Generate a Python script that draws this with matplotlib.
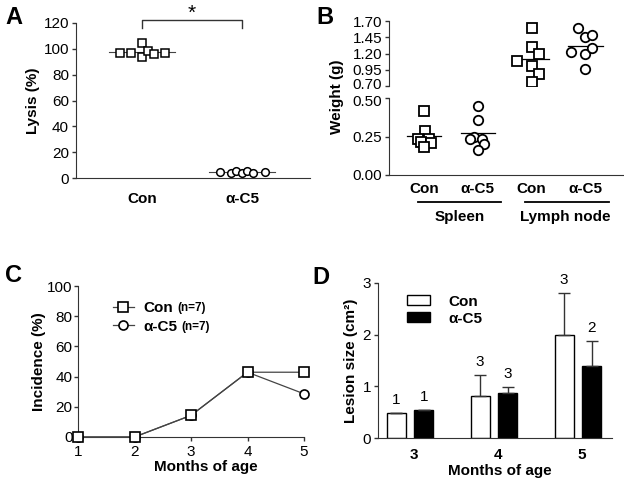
import numpy as np
import matplotlib
matplotlib.use('Agg')
import matplotlib.pyplot as plt
import matplotlib.transforms as mtransforms
from matplotlib.lines import Line2D
from matplotlib.patches import Patch

plt.rcParams['font.family'] = ['Liberation Sans', 'DejaVu Sans']
FS = 11
plt.rcParams['font.size'] = FS

# ---------------- data ----------------
# Panel A: lysis (%)
a_groups = ['Con', 'α-C5']
a_con = [97.0, 96.5, 104.2, 93.4, 98.5, 95.9, 97.0]
a_c5 = [4.7, 4.1, 5.4, 3.9, 5.2, 4.1, 4.4]

# Panel B: weight (g)
b_groups = ['Con', 'α-C5', 'Con', 'α-C5']
b_tissues = ['Spleen', 'Lymph node']
b_spleen_con = [0.416, 0.288, 0.236, 0.233, 0.216, 0.206, 0.184]
b_spleen_c5 = [0.45, 0.357, 0.249, 0.234, 0.237, 0.200, 0.164]
b_ln_con = [1.597, 1.305, 1.19, 1.085, 1.01, 0.88, 0.757]
b_ln_c5 = [1.587, 1.45, 1.485, 1.218, 1.19, 1.28, 0.957]

# Panel C: incidence (%)
c_months = [1, 2, 3, 4, 5]
c_con = [0, 0, 14.3, 42.9, 42.9]
c_c5 = [0, 0, 14.3, 42.9, 28.6]

# Panel D: lesion size (cm2)
d_months = [3, 4, 5]
d_con = [0.48, 0.81, 1.99]
d_con_err = [0.0, 0.40, 0.82]
d_c5 = [0.54, 0.87, 1.39]
d_c5_err = [0.0, 0.12, 0.48]
d_con_n = ['1', '3', '3']
d_c5_n = ['1', '3', '2']

# ---------------- layout helpers ----------------
W, H = 624, 482
fig = plt.figure(figsize=(W / 100, H / 100), dpi=100)
SP = '#333333'


def px_axes(x0, x1, ytop, ybot):
    return fig.add_axes([x0 / W, (H - ybot) / H, (x1 - x0) / W, (ybot - ytop) / H])


def style(ax, bottom=True):
    for s in ['top', 'right']:
        ax.spines[s].set_visible(False)
    ax.spines['left'].set_color(SP)
    ax.spines['bottom'].set_color(SP)
    if not bottom:
        ax.spines['bottom'].set_visible(False)
    ax.tick_params(colors=SP, labelcolor='black', labelsize=FS, length=3, width=1)
    ax.set_facecolor('none')


# ---------------- Panel A ----------------
axA = px_axes(76, 310, 23, 178)
style(axA)
jitA_con = [-0.22, -0.11, 0.0, 0.0, 0.057, 0.117, 0.23]
jitA_c5 = [-0.22, -0.11, -0.06, 0.0, 0.05, 0.11, 0.23]
for i, (vals, jit, mk) in enumerate([(a_con, jitA_con, 's'), (a_c5, jitA_c5, 'o')]):
    axA.plot([i - 0.33, i + 0.33], [np.mean(vals)] * 2, color='#444444', lw=0.8, zorder=1)
    axA.plot(np.array(jit) + i, vals, mk, ms=5.5, mfc='white', mec='black', mew=1.1,
             linestyle='none', zorder=3, clip_on=False)
axA.set_xlim(-0.66, 1.68)
axA.set_ylim(0, 120)
axA.set_yticks(np.arange(0, 121, 20))
axA.tick_params(axis='y', pad=2)
axA.set_xticks([0, 1])
axA.set_xticklabels(a_groups, fontweight='bold')
axA.tick_params(axis='x', length=0, pad=10)
axA.set_ylabel('Lysis (%)', fontweight='bold', fontsize=FS)
axA.yaxis.set_label_coords(-0.155, 0.5)
# significance bracket
axA.plot([0, 0, 1, 1], [116, 122.5, 122.5, 116], color=SP, lw=1, clip_on=False)
axA.text(0.5, 127.5, '*', ha='center', va='center', fontsize=15)

# ---------------- Panel B ----------------
axBu = px_axes(389, 623, 21, 86)
axBl = px_axes(389, 623, 98, 175)
style(axBu, bottom=False)
style(axBl)
jit_sc = [0, 0.02, -0.11, 0.09, -0.05, 0.135, 0]
jit_s5 = [0, 0, -0.07, -0.15, 0.07, 0.12, 0]
jit_lc = [0, 0, 0.135, -0.265, 0, 0.135, 0]
jit_l5 = [-0.135, 0, 0.125, -0.265, 0, 0.125, 0]
sets = [(b_spleen_con, jit_sc, 's', 0), (b_spleen_c5, jit_s5, 'o', 1),
        (b_ln_con, jit_lc, 's', 2), (b_ln_c5, jit_l5, 'o', 3)]
for vals, jit, mk, pos in sets:
    ax = axBl if max(vals) < 0.6 else axBu
    ax.plot([pos - 0.32, pos + 0.32], [np.mean(vals)] * 2, color='black', lw=0.9, zorder=1)
    ax.plot(np.array(jit) + pos, vals, mk, ms=7 if mk == 's' else 6.8, mfc='white',
            mec='black', mew=1.3, linestyle='none', zorder=3)
for ax in (axBu, axBl):
    ax.set_xlim(-0.65, 3.70)
    ax.tick_params(axis='y', pad=2)
axBu.set_ylim(0.70, 1.70)
axBu.set_yticks([0.70, 0.95, 1.20, 1.45, 1.70])
axBu.set_yticklabels(['0.70', '0.95', '1.20', '1.45', '1.70'])
axBu.set_xticks([])
axBl.set_ylim(0, 0.5)
axBl.set_yticks([0, 0.25, 0.50])
axBl.set_yticklabels(['0.00', '0.25', '0.50'])
axBl.set_xticks(range(4))
axBl.set_xticklabels(b_groups, fontweight='bold')
axBl.tick_params(axis='x', length=0, pad=5)
# nudge the two labels at the axis break apart so they do not collide
up = mtransforms.ScaledTranslation(0, 2 / 72, fig.dpi_scale_trans)
down = mtransforms.ScaledTranslation(0, -2 / 72, fig.dpi_scale_trans)
lab_u = axBu.get_yticklabels()[0]
lab_u.set_transform(lab_u.get_transform() + up)
lab_l = axBl.get_yticklabels()[-1]
lab_l.set_transform(lab_l.get_transform() + down)
fig.text(337 / W, 1 - 97 / H, 'Weight (g)', rotation=90, ha='center', va='center',
         fontweight='bold', fontsize=FS)
tr = axBl.get_xaxis_transform()
for (x0, x1, xc), name in zip([(-0.11, 1.43, 0.67), (1.87, 3.44, 2.62)], b_tissues):
    axBl.add_line(Line2D([x0, x1], [-0.35, -0.35], transform=tr, color='black', lw=1.3,
                         clip_on=False))
    axBl.text(xc, -0.55, name, transform=tr, ha='center', va='center', fontweight='bold',
              fontsize=FS)

# ---------------- Panel C ----------------
axC = px_axes(78, 304, 286, 437)
style(axC)
lc5, = axC.plot(c_months, c_c5, '-o', color='#444444', lw=0.9, ms=6.5, mfc='white',
                mec='black', mew=1.2, clip_on=False, zorder=3)
lcon, = axC.plot(c_months, c_con, '-s', color='#444444', lw=0.9, ms=7, mfc='white',
                 mec='black', mew=1.2, clip_on=False, zorder=4)
axC.set_xlim(1, 5)
axC.set_ylim(0, 100)
axC.set_xticks(c_months)
axC.set_yticks(np.arange(0, 101, 20))
axC.tick_params(axis='y', pad=1)
axC.tick_params(axis='x', pad=3)
axC.set_xlabel('Months of age', fontweight='bold', fontsize=FS, labelpad=0)
axC.xaxis.set_label_coords(0.565, -0.15)
axC.set_ylabel('Incidence (%)', fontweight='bold', fontsize=FS)
axC.yaxis.set_label_coords(-0.14, 0.5)
legC = axC.legend([lcon, lc5], ['Con', 'α-C5'], loc='upper left',
                  bbox_to_anchor=(0.154, 0.90), frameon=False, borderpad=0,
                  borderaxespad=0, handlelength=1.4, handletextpad=0.6,
                  labelspacing=0.3, prop={'weight': 'bold', 'size': FS})
fig.canvas.draw()
for t in legC.get_texts():
    bb = t.get_window_extent()
    fig.text((bb.x1 + 4) / W, (bb.y0 + bb.y1) / 2 / H, '(n=7)', fontsize=8.5,
             fontweight='bold', va='center', ha='left')

# ---------------- Panel D ----------------
axD = px_axes(378, 612, 283, 438)
style(axD)
x = np.array(d_months, dtype=float)
bw = 0.226
axD.bar(x - 0.165, d_con, bw, color='white', edgecolor='black', lw=1,
        yerr=[np.zeros(3), d_con_err], error_kw=dict(ecolor=SP, elinewidth=1, capsize=4,
                                                     capthick=1), zorder=2)
axD.bar(x + 0.165, d_c5, bw, color='black', edgecolor='black', lw=1,
        yerr=[np.zeros(3), d_c5_err], error_kw=dict(ecolor=SP, elinewidth=1, capsize=4,
                                                    capthick=1), zorder=2)
for xi, v, e, n in zip(x - 0.165, d_con, d_con_err, d_con_n):
    axD.text(xi, v + e + 0.12, n, ha='center', va='bottom', fontsize=FS)
for xi, v, e, n in zip(x + 0.165, d_c5, d_c5_err, d_c5_n):
    axD.text(xi, v + e + 0.12, n, ha='center', va='bottom', fontsize=FS)
axD.set_xlim(2.62, 5.405)
axD.set_ylim(0, 3)
axD.set_yticks([0, 1, 2, 3])
axD.tick_params(axis='y', pad=2)
axD.set_xticks(x + 0.05)
axD.set_xticklabels([str(m) for m in d_months], fontweight='bold')
axD.tick_params(axis='x', length=0, pad=7)
axD.set_xlabel('Months of age', fontweight='bold', fontsize=FS, labelpad=0)
axD.xaxis.set_label_coords(0.52, -0.165)
axD.set_ylabel('Lesion size (cm²)', fontweight='bold', fontsize=FS)
axD.yaxis.set_label_coords(-0.085, 0.5)
axD.legend([Patch(facecolor='white', edgecolor='black'),
            Patch(facecolor='black', edgecolor='black')], ['Con', 'α-C5'],
           loc='upper left', bbox_to_anchor=(0.124, 0.925), frameon=False, borderpad=0,
           borderaxespad=0, handlelength=1.5, handleheight=0.6, handletextpad=1.2,
           labelspacing=0.2, prop={'weight': 'bold', 'size': FS})

# ---------------- panel letters ----------------
for lx, ly, L in [(5, 18, 'A'), (316, 18, 'B'), (5, 276, 'C'), (312, 278, 'D')]:
    fig.text(lx / W, 1 - ly / H, L, fontsize=17, fontweight='bold', ha='left', va='center')

fig.savefig('out.png', dpi=100)
